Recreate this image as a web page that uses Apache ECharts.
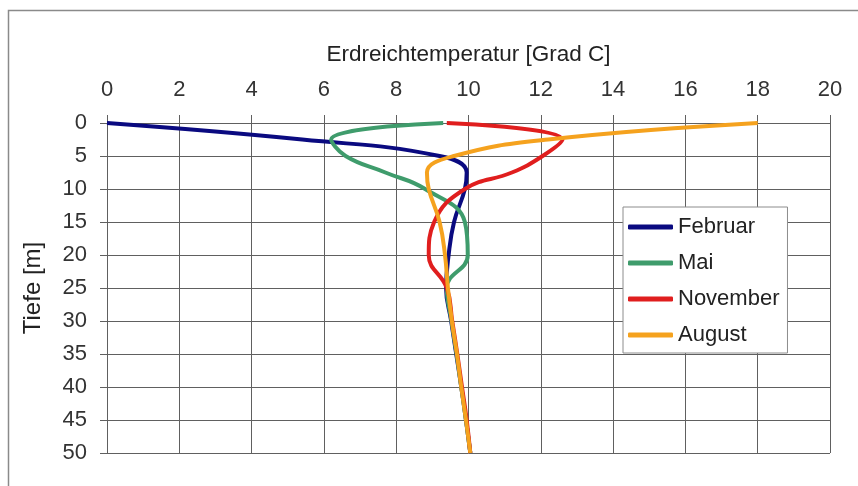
<!DOCTYPE html>
<html>
<head>
<meta charset="utf-8">
<script src="https://cdn.jsdelivr.net/npm/echarts@6/dist/echarts.min.js"></script>
<style>
html,body{margin:0;padding:0;background:#fff;}
#chart{width:858px;height:486px;}
</style>
</head>
<body>
<div id="chart"></div>
<script>
// Depth levels [m]
var depths = [0, 2.5, 5, 7.5, 10, 15, 20, 25, 30, 35, 40, 45, 50];
// Temperatures [°C] per month at each depth
var februar  = [0.0, 5.4, 9.2, 9.95, 9.9, 9.6, 9.45, 9.38, 9.52, 9.66, 9.8, 9.93, 10.05];
var mai      = [9.3, 6.2, 6.6, 7.7, 8.8, 9.9, 9.98, 9.4, 9.53, 9.67, 9.8, 9.93, 10.05];
var november = [9.4, 12.6, 12.05, 11.2, 9.9, 9.05, 8.9, 9.4, 9.55, 9.69, 9.82, 9.95, 10.05];
var august   = [18.0, 12.2, 9.6, 8.85, 8.9, 9.2, 9.35, 9.43, 9.54, 9.68, 9.8, 9.93, 10.05];

var seriesNames = ['Februar', 'Mai', 'November', 'August'];
var seriesValues = [februar, mai, november, august];
var seriesColors = ['#0a0a80', '#3f9c6c', '#e01e1e', '#f5a21e'];

var xTitle = 'Erdreichtemperatur [Grad C]';
var yTitle = 'Tiefe [m]';

function pairs(vals) {
  return depths.map(function (d, i) { return [vals[i], d]; });
}

var font = 'Liberation Sans, Arial, sans-serif';
var chart = echarts.init(document.getElementById('chart'), null, {renderer: 'canvas'});

chart.setOption({
  animation: false,
  backgroundColor: '#ffffff',
  graphic: [{
    type: 'rect',
    shape: {x: 8.5, y: 10.5, width: 900, height: 600},
    style: {fill: 'none', stroke: '#8a8a8a', lineWidth: 1.5},
    silent: true, z: -1
  }],
  grid: {left: 107, right: 28, top: 123, bottom: 33, containLabel: false},
  legend: {
    orient: 'vertical',
    left: 623, top: 207,
    padding: [9, 8, 7, 5],
    backgroundColor: '#ffffff',
    borderColor: '#8c8c8c',
    borderWidth: 1,
    itemWidth: 45,
    itemHeight: 5,
    itemGap: 14,
    icon: 'roundRect',
    textStyle: {fontFamily: font, fontSize: 22, color: '#222'},
    data: seriesNames
  },
  xAxis: {
    type: 'value',
    position: 'top',
    min: 0, max: 20, interval: 2,
    name: xTitle,
    nameLocation: 'middle',
    nameGap: 57,
    nameTextStyle: {fontFamily: font, fontSize: 22.5, color: '#222'},
    axisLine: {show: true, lineStyle: {color: '#606060', width: 1}},
    axisTick: {show: true, inside: false, length: 8, lineStyle: {color: '#606060'}},
    axisLabel: {fontFamily: font, fontSize: 22, color: '#333', margin: 22},
    splitLine: {show: true, lineStyle: {color: '#606060', width: 1}}
  },
  yAxis: {
    type: 'value',
    inverse: true,
    min: 0, max: 50, interval: 5,
    name: yTitle,
    nameLocation: 'middle',
    nameGap: 62,
    nameRotate: 90,
    nameTextStyle: {fontFamily: font, fontSize: 24, color: '#222'},
    axisLine: {show: true, lineStyle: {color: '#606060', width: 1}},
    axisTick: {show: true, inside: false, length: 7, lineStyle: {color: '#606060'}},
    axisLabel: {fontFamily: font, fontSize: 22, color: '#333', margin: 20},
    splitLine: {show: true, lineStyle: {color: '#606060', width: 1}}
  },
  series: seriesNames.map(function (n, i) {
    return {
      name: n,
      type: 'line',
      data: pairs(seriesValues[i]),
      smooth: 0.45,
      symbol: 'none',
      color: seriesColors[i],
      lineStyle: {width: 4, color: seriesColors[i]}
    };
  })
});
</script>
</body>
</html>
